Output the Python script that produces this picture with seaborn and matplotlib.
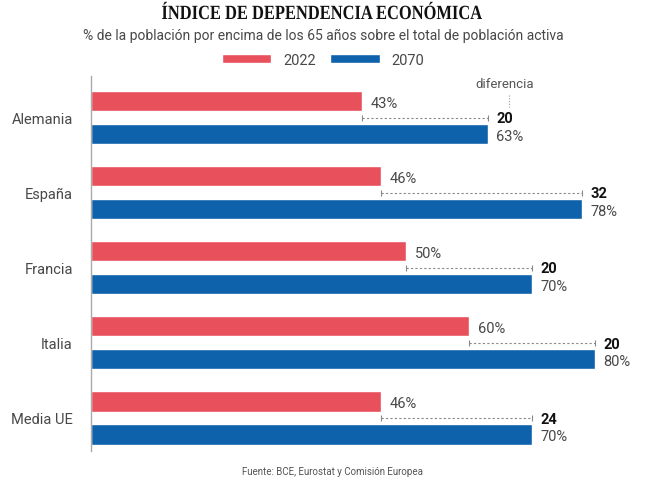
import matplotlib
matplotlib.use("Agg")
import matplotlib.pyplot as plt
import seaborn as sns
import pandas as pd
from matplotlib.textpath import TextPath
from matplotlib.patches import PathPatch
from matplotlib.font_manager import FontProperties
from matplotlib.transforms import Affine2D

# Data
paises = ["Alemania", "España", "Francia", "Italia", "Media UE"]
v2022 = [43, 46, 50, 60, 46]
v2070 = [63, 78, 70, 80, 70]
years = ["2022", "2070"]
colors = ["#E8505B", "#0E62AC"]

df = pd.DataFrame({
    "pais": paises * 2,
    "year": [years[0]] * len(paises) + [years[1]] * len(paises),
    "valor": v2022 + v2070,
})

sns.set_theme(style="white")
plt.rcParams["font.family"] = ["Roboto", "DejaVu Sans"]
LW = "normal"
TXT = "#484848"

W, H = 646, 485
fig = plt.figure(figsize=(W / 100, H / 100), dpi=100)
# axes: x from 91px to 595px (0..80), y from 77px to 452px
ax = fig.add_axes([91 / W, 1 - 452 / H, (595 - 91) / W, (452 - 77) / H])

sns.barplot(data=df, y="pais", x="valor", hue="year", hue_order=years,
            palette=colors, orient="h", width=0.88, gap=0.39,
            order=paises, ax=ax, saturation=1, legend=True)

ax.set_xlim(0, 80)
ax.set_ylim(4.44, -0.553)
ax.set_xlabel("")
ax.set_ylabel("")
ax.set_xticks([])
for s in ["top", "right", "bottom"]:
    ax.spines[s].set_visible(False)
ax.spines["left"].set_color("#aaaaaa")
ax.spines["left"].set_linewidth(1)
ax.tick_params(axis="y", length=0, pad=13, labelsize=10.5, labelcolor=TXT)
for t in ax.get_yticklabels():
    t.set_fontweight(LW)

# per-group annotations
off = 0.22
for i, (a, b) in enumerate(zip(v2022, v2070)):
    ax.text(a + 1.4, i - off + 0.02, f"{a}%", va="center", ha="left",
            fontsize=10.5, color=TXT, fontweight=LW, clip_on=False)
    ax.plot([a, b], [i, i], ls=(0, (2, 2)), color="#888888", lw=0.8,
            clip_on=False)
    ax.plot([a, b], [i, i], ls="none", marker="|", ms=4, mew=0.8,
            color="#888888", clip_on=False)
    ax.text(b + 1.3, i + 0.01, f"{b - a}", va="center", ha="left",
            fontsize=10.5, fontweight="bold", color="#111111", clip_on=False)
    ax.text(b + 1.3, i + off + 0.02, f"{b}%", va="center", ha="left",
            fontsize=10.5, color=TXT, fontweight=LW, clip_on=False)

# "diferencia" note
ax.text(65.7, -0.45, "diferencia", ha="center", va="center",
        fontsize=9.5, color="#555555", fontweight=LW, clip_on=False)
ax.plot([66.3, 66.3], [-0.3, -0.14], ls=(0, (1, 1.5)), color="#999999",
        lw=0.8, clip_on=False)

# legend
handles, labels = ax.get_legend_handles_labels()
leg = ax.legend(handles, labels, loc="center", bbox_to_anchor=(323 / W, 1 - 61 / H),
                bbox_transform=fig.transFigure, ncol=2, frameon=False,
                handlelength=3.4, handleheight=0.6, handletextpad=0.8,
                columnspacing=1.0, fontsize=10.5, labelcolor=TXT)
for t in leg.get_texts():
    t.set_fontweight(LW)

# title: condensed serif, drawn as a path squeezed horizontally
title = "ÍNDICE DE DEPENDENCIA ECONÓMICA"
tp = TextPath((0, 0), title, size=14.5,
              prop=FontProperties(family="Liberation Serif", weight="bold"))
bb = tp.get_extents()
sx = 320 / (bb.width * 100 / 72)
tr = (Affine2D().translate(-(bb.x0 + bb.width / 2), 0)
      .scale(sx * 100 / 72, 100 / 72).translate(322, H - 20))
fig.patches.append(PathPatch(tp, transform=tr, facecolor="#111111",
                             edgecolor="none", figure=fig))

fig.text(323 / W, 1 - 36 / H,
         "% de la población por encima de los 65 años sobre el total de población activa",
         ha="center", va="center", fontsize=10, color=TXT, fontweight=LW)
fig.text(332 / W, 1 - 472 / H, "Fuente: BCE, Eurostat y Comisión Europea",
         ha="center", va="center", fontsize=7, color="#555555", fontweight=LW)

fig.savefig("out.png", dpi=100, facecolor="white")
